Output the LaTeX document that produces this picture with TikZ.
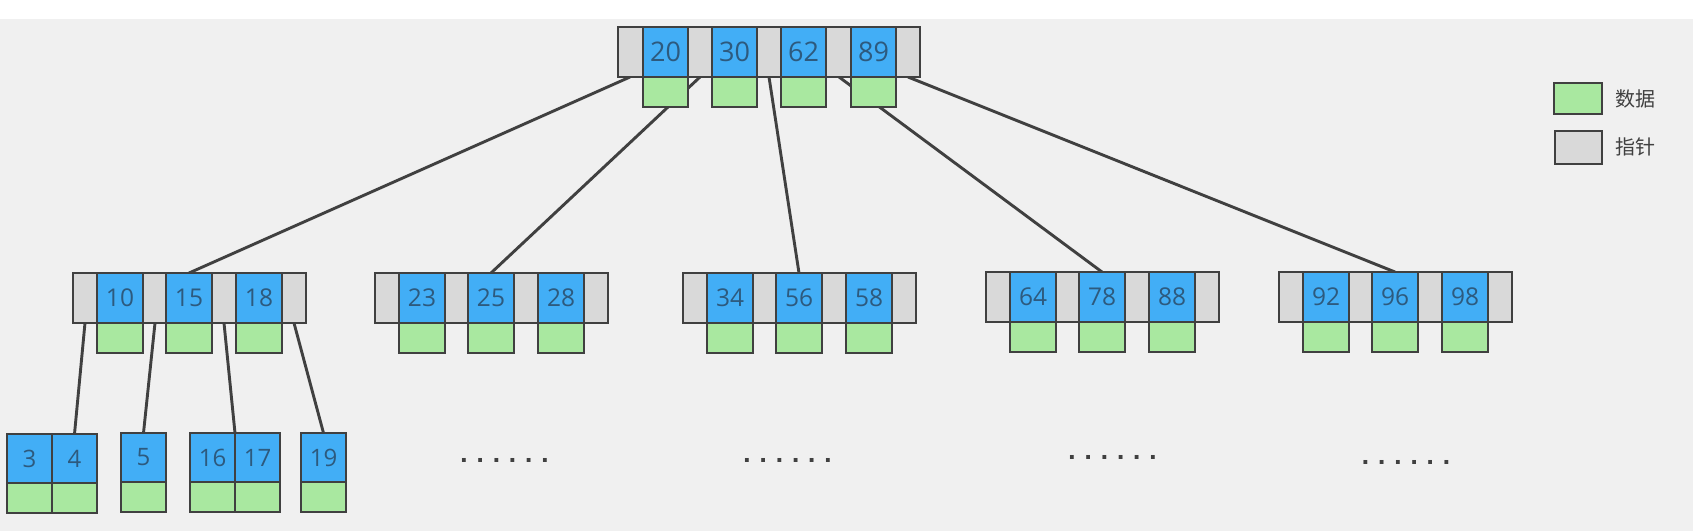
\documentclass[tikz,border=0pt]{standalone}
\usepackage{fontspec}
\setmainfont{Open Sans}
\newfontfamily\cjk{Noto Sans CJK SC}
\newfontfamily\monof{Liberation Mono}
\pgfdeclarelayer{bg}
\pgfdeclarelayer{edges}
\pgfsetlayers{bg,edges,main}
\definecolor{keyblue}{HTML}{42AEF6}
\definecolor{datgreen}{HTML}{A9E8A0}
\definecolor{ptrgray}{HTML}{D9D9D9}
\definecolor{bggray}{HTML}{F0F0F0}
\definecolor{txtblue}{HTML}{2D5A7E}
\definecolor{linegray}{HTML}{404040}
\tikzset{
 cell/.style={draw=linegray, line width=1.2pt, inner sep=0pt, outer sep=0pt, anchor=north west},
 bar/.style={cell, fill=ptrgray, minimum height=50pt},
 ptr/.style={inner sep=0pt, outer sep=0pt, anchor=north west, minimum width=24pt, minimum height=50pt},
 keycell/.style={cell, fill=keyblue, minimum width=46pt, minimum height=50pt, text=txtblue, font=\fontsize{24.5}{28}\selectfont},
 rootkey/.style={keycell, minimum width=45pt, font=\fontsize{27}{30}\selectfont},
 leafkey/.style={keycell, minimum width=45pt, minimum height=49pt, font=\fontsize{24}{28}\selectfont},
 datcell/.style={cell, fill=datgreen, minimum height=30pt, anchor=north},
 edge/.style={draw=linegray, line width=2.9pt},
 dots/.style={font=\monof\bfseries\fontsize{27}{30}\selectfont, text=linegray, anchor=base, inner sep=0pt},
 legtext/.style={font=\cjk\fontsize{20}{23}\selectfont, text=linegray, anchor=west, inner sep=0pt},
}
\newcommand\lvtwo[6]{%
 \node[bar, minimum width=233pt] (#1) at (#2,#3) {};
 \node[ptr] (#1p0) at (#2,#3) {};
 \node[ptr] (#1p1) at (#2+70,#3) {};
 \node[ptr] (#1p2) at (#2+139,#3) {};
 \node[ptr] (#1p3) at (#2+209,#3) {};
 \node[keycell] (#1k1) at (#2+24,#3) {#4};
 \node[keycell] (#1k2) at (#2+93,#3) {#5};
 \node[keycell] (#1k3) at (#2+163,#3) {#6};
 \node[datcell, minimum width=46pt] (#1d1) at (#1k1.south) {};
 \node[datcell, minimum width=46pt] (#1d2) at (#1k2.south) {};
 \node[datcell, minimum width=46pt] (#1d3) at (#1k3.south) {};
}
\begin{document}
\begin{tikzpicture}[x=1pt,y=-1pt]
\useasboundingbox (0,0) rectangle (1693,531);
\begin{pgfonlayer}{bg}
 \fill[bggray] (0,19) rectangle (1693,531);
\end{pgfonlayer}
% root
\node[bar, minimum width=302pt] (root) at (618,27) {};
\node[ptr] (r0) at (618,27) {};
\node[ptr] (r1) at (688,27) {};
\node[ptr] (r2) at (757,27) {};
\node[ptr] (r3) at (827,27) {};
\node[ptr] (r4) at (896,27) {};
\node[rootkey] (rk1) at (643,27) {20};
\node[rootkey] (rk2) at (712,27) {30};
\node[rootkey] (rk3) at (781,27) {62};
\node[rootkey] (rk4) at (851,27) {89};
\node[datcell, minimum width=45pt] (rd1) at (rk1.south) {};
\node[datcell, minimum width=45pt] (rd2) at (rk2.south) {};
\node[datcell, minimum width=45pt] (rd3) at (rk3.south) {};
\node[datcell, minimum width=45pt] (rd4) at (rk4.south) {};
% level 2
\lvtwo{na}{73}{273}{10}{15}{18}
\lvtwo{nb}{375}{273}{23}{25}{28}
\lvtwo{nc}{683}{273}{34}{56}{58}
\lvtwo{nd}{986}{272}{64}{78}{88}
\lvtwo{ne}{1279}{272}{92}{96}{98}
% leaves
\node[leafkey] (a1) at (7,434) {3};
\node[leafkey] (a2) at (52,434) {4};
\node[leafkey] (b1) at (121,433) {5};
\node[leafkey] (c1) at (190,433) {16};
\node[leafkey] (c2) at (235,433) {17};
\node[leafkey] (d1) at (301,433) {19};
\foreach \n in {a1,a2,b1,c1,c2,d1}{
 \node[datcell, minimum width=45pt] (\n d) at (\n.south) {};
}
% dots
\node[dots] (dt1) at (504.5,462) {......};
\node[dots] (dt2) at (787.5,462) {......};
\node[dots] (dt3) at (1112.5,459) {......};
\node[dots] (dt4) at (1406,464) {......};
% legend
\node[cell, fill=datgreen, minimum width=48pt, minimum height=31pt] (legd) at (1554,83) {};
\node[cell, fill=ptrgray, minimum width=47pt, minimum height=33pt] (legp) at (1555,131) {};
\node[legtext] (legdt) at (1615,99) {数据};
\node[legtext] (legpt) at (1615,147) {指针};
% edges
\begin{pgfonlayer}{edges}
 \draw[edge] (r0.south) -- (nak2.north);
 \draw[edge] (r1.south) -- (nbk2.north);
 \draw[edge] (r2.south) -- (nck2.north);
 \draw[edge] (r3.south) -- (ndk2.north);
 \draw[edge] (r4.south) -- (nek2.north);
 \draw[edge] (nap0.south) -- (a2.north);
 \draw[edge] (nap1.south) -- (b1.north);
 \draw[edge] (nap2.south) -- (c1.north east);
 \draw[edge] (nap3.south) -- (d1.north);
\end{pgfonlayer}
\end{tikzpicture}
\end{document}
